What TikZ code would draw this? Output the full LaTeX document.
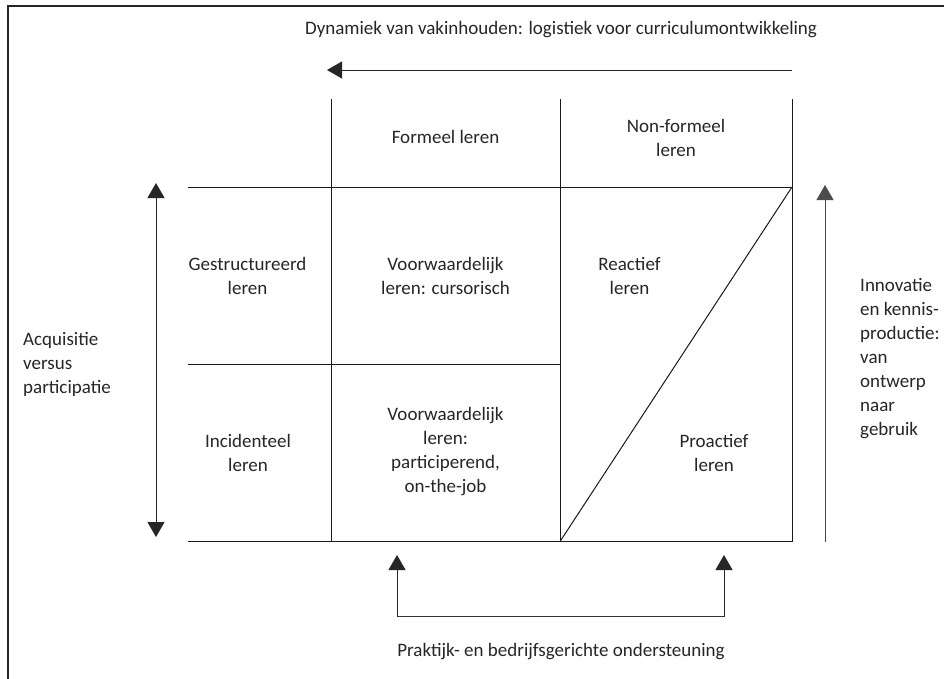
\documentclass[tikz,border=0pt]{standalone}
\usepackage{fontspec}
\setmainfont{Carlito}
\usetikzlibrary{arrows.meta}
\begin{document}
\begin{tikzpicture}[x=1pt,y=-1pt,
  txt/.style={font=\fontsize{19}{24}\selectfont, text=black!85, inner sep=0pt, align=center},
  ltxt/.style={txt, align=left},
  grid/.style={line width=1pt, black!90},
  arr/.style={line width=1pt, black!85, -{Triangle[length=15pt,width=17pt]}},
  darr/.style={line width=1pt, black!85, {Triangle[length=15pt,width=17pt]}-{Triangle[length=15pt,width=17pt]}}
]
\useasboundingbox (0,0) rectangle (944,678);
\fill[white] (0,0) rectangle (944,678);

% outer frame (left and top edges)
\coordinate (fbl) at (8,690);
\coordinate (ftl) at (8,6);
\coordinate (ftr) at (950,6);
\draw[line width=1.1pt, black!85] (fbl) -- (ftl) -- (ftr);

% grid corners
\coordinate (a0) at (331,99);  \coordinate (b0) at (560,99);  \coordinate (c0) at (792,99);
\coordinate (l1) at (188,187); \coordinate (a1) at (331,187); \coordinate (b1) at (560,187); \coordinate (c1) at (792,187);
\coordinate (l2) at (188,364); \coordinate (b2) at (560,364);
\coordinate (l3) at (188,541.5); \coordinate (a3) at (331,541.5); \coordinate (b3) at (560,541.5); \coordinate (c3) at (792,541.5);

\draw[grid] (a0) -- (a3);
\draw[grid] (b0) -- (b3);
\draw[grid] (c0) -- (c3);
\draw[grid] (l1) -- (c1);
\draw[grid] (l2) -- (b2);
\draw[grid] (l3) -- (c3);
\draw[grid] (b3) -- (c1);

% title and its arrow
\node[txt, anchor=base] (title) at (561,34) {Dynamiek van vakinhouden: logistiek voor curriculumontwikkeling};
\coordinate (tr) at (792,70);
\coordinate (tl) at (327,70);
\draw[arr] (tr) -- (tl);

% column headers
\node[txt] (formeel) at (445.5,137) {Formeel leren};
\node[txt] (nonformeel) at (676,138) {Non-formeel\\leren};

% cells
\node[txt] (gestr) at (247.5,275.5) {Gestructureerd\\leren};
\node[txt] (voorw1) at (445.5,275.5) {Voorwaardelijk\\leren: cursorisch};
\node[txt] (reactief) at (629.5,275.5) {Reactief\\leren};
\node[txt] (incid) at (248,452.5) {Incidenteel\\leren};
\node[txt] (voorw2) at (445.5,451.5) {Voorwaardelijk\\leren:\\participerend,\\on-the-job};
\node[txt] (proact) at (714,452.5) {Proactief\\leren};

% left axis
\coordinate (lu) at (156,183);
\coordinate (ld) at (156,537);
\draw[darr] (ld) -- (lu);
\node[ltxt, anchor=west] (acq) at (23,364.5) {Acquisitie\\versus\\participatie};

% right axis
\coordinate (rd) at (825,541.5);
\coordinate (ru) at (825,185);
\draw[arr, black!70] (rd) -- (ru);
\node[ltxt, anchor=west] (innov) at (860,358.7) {Innovatie\\en kennis-\\productie:\\van\\ontwerp\\naar\\gebruik};

% bottom bracket
\coordinate (bl) at (397,616.7);
\coordinate (br) at (724,616.7);
\coordinate (blt) at (397,555);
\coordinate (brt) at (724,555);
\draw[line width=1pt, black!80] (bl) -- (br);
\draw[arr] (bl) -- (blt);
\draw[arr] (br) -- (brt);
\node[txt] (prakt) at (561,651.7) {Praktijk- en bedrijfsgerichte ondersteuning};
\end{tikzpicture}
\end{document}
